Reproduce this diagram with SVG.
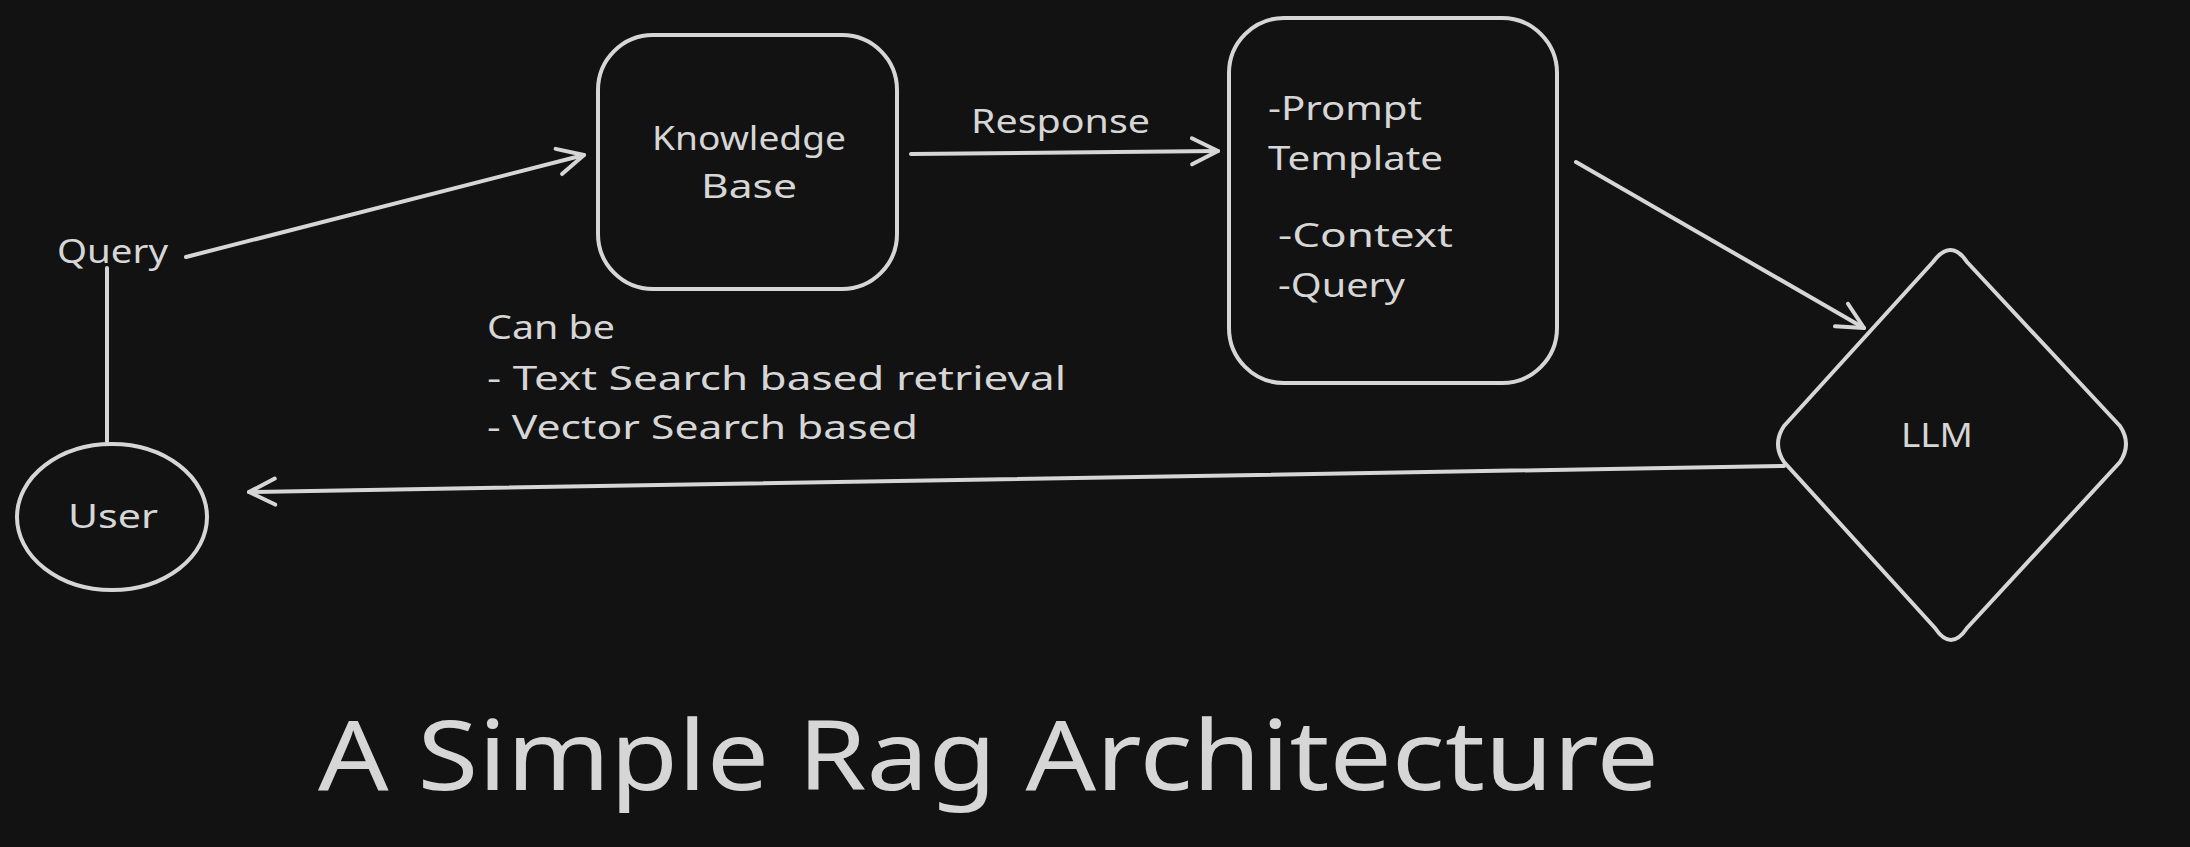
<svg xmlns="http://www.w3.org/2000/svg" width="2190" height="847" viewBox="0 0 2190 847">
<style>
.s{fill:none;stroke:#d6d6d6;stroke-width:4;stroke-linecap:round;stroke-linejoin:round}
.t{fill:#d6d6d6;font-family:"Noto Sans","DejaVu Sans",sans-serif;font-size:32px}
.c{text-anchor:middle}
</style>
<defs>
<marker id="ah" markerUnits="userSpaceOnUse" markerWidth="40" markerHeight="40" viewBox="-30 -20 40 40" refX="0" refY="0" orient="auto">
<path d="M-26 -13 L0 0 L-26 13" fill="none" stroke="#d6d6d6" stroke-width="4" stroke-linecap="round" stroke-linejoin="round"/>
</marker>
</defs>
<rect width="2190" height="847" fill="#121212"/>
<g id="connectors">
<path class="s" d="M107 268 L107 442"/>
<path class="s" d="M186 257 L584 155" marker-end="url(#ah)"/>
<path class="s" d="M911 154 L1218 151" marker-end="url(#ah)"/>
<path class="s" d="M1576 162 L1864 328" marker-end="url(#ah)"/>
<path class="s" d="M1784 466 L249 492" marker-end="url(#ah)"/>
<text class="t" x="971" y="133" textLength="179" lengthAdjust="spacingAndGlyphs">Response</text>
</g>
<g id="query-label">
<text class="t" x="57" y="263" textLength="111" lengthAdjust="spacingAndGlyphs">Query</text>
</g>
<g id="user">
<ellipse class="s" cx="112" cy="517" rx="95" ry="73"/>
<text class="t c" x="113" y="528" textLength="90" lengthAdjust="spacingAndGlyphs">User</text>
</g>
<g id="knowledge-base">
<rect class="s" x="598" y="35" width="299" height="254" rx="55"/>
<text class="t c" x="749" y="150" textLength="194" lengthAdjust="spacingAndGlyphs">Knowledge</text>
<text class="t c" x="749" y="198" textLength="96" lengthAdjust="spacingAndGlyphs">Base</text>
</g>
<g id="prompt-template">
<rect class="s" x="1229" y="18" width="328" height="365" rx="55"/>
<text class="t" x="1268" y="120" textLength="154" lengthAdjust="spacingAndGlyphs">-Prompt</text>
<text class="t" x="1268" y="170" textLength="175" lengthAdjust="spacingAndGlyphs">Template</text>
<text class="t" x="1278" y="247" textLength="175" lengthAdjust="spacingAndGlyphs">-Context</text>
<text class="t" x="1278" y="297" textLength="127" lengthAdjust="spacingAndGlyphs">-Query</text>
</g>
<g id="llm">
<path class="s" d="M1933 262 Q1951 238 1967 262 L2120 426 Q2132 444 2120 462 L1967 628 Q1951 652 1935 628 L1784 462 Q1772 444 1784 426 Z"/>
<text class="t c" x="1937" y="447" textLength="72" lengthAdjust="spacingAndGlyphs">LLM</text>
</g>
<g id="note">
<text class="t" x="487" y="339" textLength="128" lengthAdjust="spacingAndGlyphs">Can be</text>
<text class="t" x="487" y="390" textLength="579" lengthAdjust="spacingAndGlyphs">- Text Search based retrieval</text>
<text class="t" x="487" y="439" textLength="431" lengthAdjust="spacingAndGlyphs">- Vector Search based</text>
</g>
<g id="title">
<text class="t" x="318" y="790" style="font-size:96px" textLength="1341" lengthAdjust="spacingAndGlyphs">A Simple Rag Architecture</text>
</g>
</svg>
